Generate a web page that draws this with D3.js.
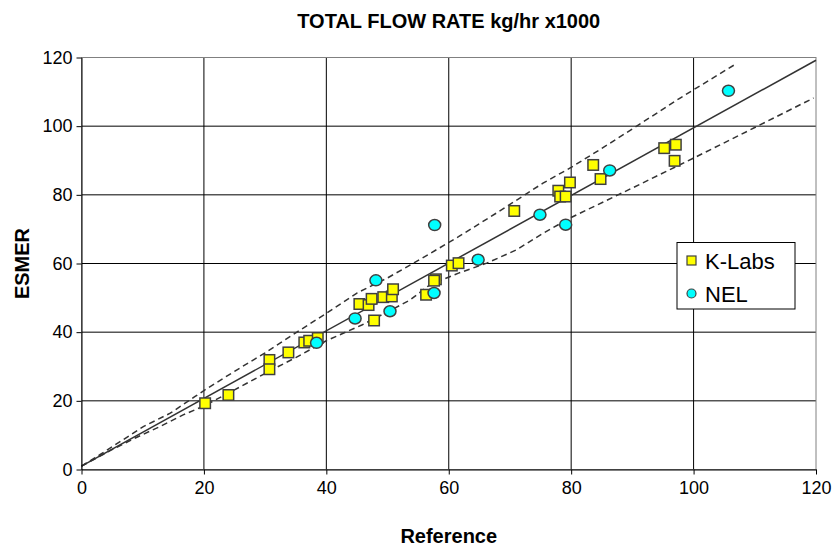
<!DOCTYPE html>
<meta charset="utf-8">
<style>
body { margin: 0; background: #fff; }
text { font-family: Arial, "Liberation Sans", sans-serif; }
.grid line { stroke: #000; stroke-width: 1px; }
.axis path, .axis line { stroke: #000; }
.axis text { font-size: 18px; fill: #000; }
.fit { fill: none; stroke: #333; stroke-width: 1.5px; }
.band { fill: none; stroke: #333; stroke-width: 1.5px; stroke-dasharray: 6,4; }
</style>
<body>
<script src="https://cdn.jsdelivr.net/npm/d3@7"></script>
<script>

// K-Labs points (reference, ESMER)
var kLabsX = [20.2, 24.0, 30.7, 30.7, 33.8, 36.4, 37.2, 38.6, 45.4, 46.9, 47.4, 49.3, 50.7, 50.9, 47.8,
              56.3, 57.9, 57.6, 60.5, 61.6, 70.7, 77.9, 78.2, 79.1, 79.8, 83.6, 84.8, 95.2, 97.1, 96.9];
var kLabsY = [19.3, 21.7, 31.9, 29.2, 34.1, 37.0, 37.5, 38.3, 48.2, 47.9, 49.7, 50.2, 50.4, 52.5, 43.4,
              50.9, 55.4, 55.0, 59.4, 60.1, 75.3, 81.2, 79.5, 79.5, 83.6, 88.7, 84.6, 93.6, 94.6, 89.9];

// NEL points
var nelX = [38.4, 44.7, 48.1, 50.4, 57.6, 57.7, 64.8, 74.9, 79.1, 86.3, 105.7];
var nelY = [36.9, 44.0, 55.1, 46.1, 51.4, 71.2, 61.1, 74.2, 71.3, 87.1, 110.3];

// regression line
var fitX = [0, 120];
var fitY = [1.0, 119.2];

// upper / lower dashed bands
var upperX = [0, 3, 6.3, 10.1, 14.5, 18.5, 20, 25, 30, 35, 40, 45, 50, 55.6, 61.6, 67.8, 75.4, 80, 85, 90, 97.8, 106.8];
var upperY = [1.0, 4.3, 8.1, 12.5, 16.4, 21.2, 23.0, 28.6, 34.0, 39.8, 45.5, 51.4, 55.8, 61.5, 67.8, 74.7, 83.4, 88.0, 93.5, 99.2, 108.2, 118.0];
var lowerX = [0, 4.9, 8.7, 12.8, 16.6, 20, 25, 31.6, 35, 40, 45.8, 50.1, 53.7, 56.9, 61.6, 66.2, 71.1, 75.4, 80, 90, 100, 110, 119.6];
var lowerY = [1.0, 5.7, 9.1, 12.5, 15.9, 18.5, 23.2, 29.5, 32.6, 37.5, 42.1, 46.0, 49.4, 53.8, 57.2, 60.1, 64.0, 68.8, 73.4, 82.0, 90.7, 99.6, 108.2];

var xTicks = [0, 20, 40, 60, 80, 100, 120];
var yTicks = [0, 20, 40, 60, 80, 100, 120];

var margin = {top: 57.5, right: 23, bottom: 84.5, left: 81.5},
    width = 839 - margin.left - margin.right,
    height = 554 - margin.top - margin.bottom;

var x = d3.scaleLinear().domain([0, 120]).range([0, width]);
var y = d3.scaleLinear().domain([0, 120]).range([height, 0]);

var svg = d3.select("body").append("svg")
    .attr("width", 839)
    .attr("height", 554);

var g = svg.append("g")
    .attr("transform", "translate(" + margin.left + "," + margin.top + ")");

// gridlines
var grid = g.append("g").attr("class", "grid");
grid.selectAll(".gx").data(xTicks.slice(1, -1)).enter().append("line")
    .attr("x1", function(d) { return x(d); }).attr("x2", function(d) { return x(d); })
    .attr("y1", 0).attr("y2", height);
grid.selectAll(".gy").data(yTicks.slice(1, -1)).enter().append("line")
    .attr("y1", function(d) { return y(d); }).attr("y2", function(d) { return y(d); })
    .attr("x1", 0).attr("x2", width);

// plot border (grey on top and right)
g.append("rect")
    .attr("width", width).attr("height", height)
    .attr("fill", "none").attr("stroke", "#808080");

function pts(xs, ys) {
  return xs.map(function(v, i) { return [v, ys[i]]; });
}

var line = d3.line()
    .x(function(d) { return x(d[0]); })
    .y(function(d) { return y(d[1]); });

g.append("path").datum(pts(upperX, upperY)).attr("class", "band").attr("d", line);
g.append("path").datum(pts(lowerX, lowerY)).attr("class", "band").attr("d", line);
g.append("path").datum(pts(fitX, fitY)).attr("class", "fit").attr("d", line);

// axes
g.append("g")
    .attr("class", "axis")
    .attr("transform", "translate(0," + height + ")")
    .call(d3.axisBottom(x).tickValues(xTicks).tickSize(5).tickPadding(7).tickSizeOuter(0));

g.append("g")
    .attr("class", "axis")
    .call(d3.axisLeft(y).tickValues(yTicks).tickSize(5).tickPadding(4).tickSizeOuter(0));

// markers
var sq = 10.5;
g.selectAll(".klabs").data(pts(kLabsX, kLabsY)).enter().append("rect")
    .attr("x", function(d) { return x(d[0]) - sq / 2; })
    .attr("y", function(d) { return y(d[1]) - sq / 2; })
    .attr("width", sq).attr("height", sq)
    .attr("fill", "#ffff00").attr("stroke", "#404040").attr("stroke-width", 1.5);

g.selectAll(".nel").data(pts(nelX, nelY)).enter().append("ellipse")
    .attr("cx", function(d) { return x(d[0]); })
    .attr("cy", function(d) { return y(d[1]); })
    .attr("rx", 6).attr("ry", 5.5)
    .attr("fill", "#00ffff").attr("stroke", "#404040").attr("stroke-width", 1.5);

// titles
svg.append("text")
    .attr("x", margin.left + width / 2).attr("y", 28)
    .attr("text-anchor", "middle")
    .style("font-size", "20px").style("font-weight", "bold")
    .text("TOTAL FLOW RATE kg/hr x1000");

svg.append("text")
    .attr("x", margin.left + width / 2).attr("y", 543)
    .attr("text-anchor", "middle")
    .style("font-size", "20px").style("font-weight", "bold")
    .text("Reference");

svg.append("text")
    .attr("transform", "translate(29," + (margin.top + height / 2) + ") rotate(-90)")
    .attr("text-anchor", "middle")
    .style("font-size", "20px").style("font-weight", "bold")
    .text("ESMER");

// legend
var legend = svg.append("g").attr("transform", "translate(677,242.5)");
legend.append("rect")
    .attr("width", 118).attr("height", 66.5)
    .attr("fill", "#fff").attr("stroke", "#000");
legend.append("rect")
    .attr("x", 10).attr("y", 13.5).attr("width", 9).attr("height", 9)
    .attr("fill", "#ffff00").attr("stroke", "#404040").attr("stroke-width", 1.2);
legend.append("text").attr("x", 28).attr("y", 26).style("font-size", "22px").text("K-Labs");
legend.append("circle")
    .attr("cx", 14.5).attr("cy", 51).attr("r", 4.5)
    .attr("fill", "#00ffff").attr("stroke", "#404040").attr("stroke-width", 1.2);
legend.append("text").attr("x", 28).attr("y", 59).style("font-size", "22px").text("NEL");

</script>
</body>
